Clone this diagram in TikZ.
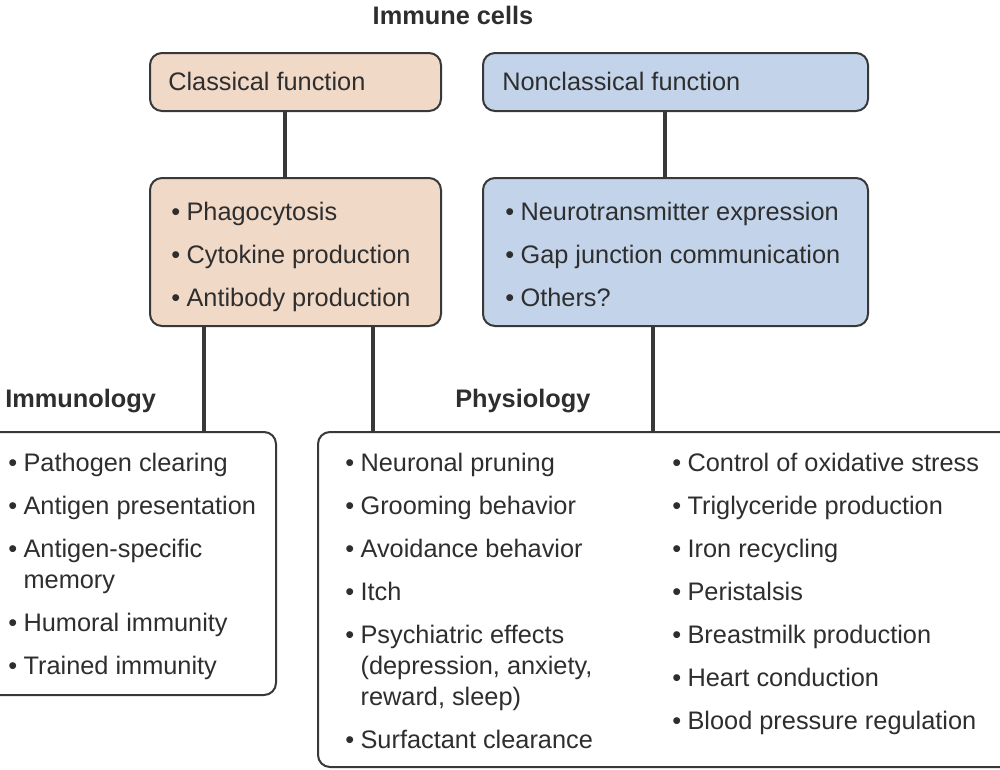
\documentclass[tikz,border=0pt]{standalone}
\usepackage{fontspec}
\setmainfont{Liberation Sans}
\usetikzlibrary{fit}
\definecolor{peach}{HTML}{F1D9C7}
\definecolor{paleblue}{HTML}{C3D4EA}
\definecolor{edge}{HTML}{383838}
\definecolor{ink}{HTML}{2E2E2E}
\newcommand\bu{\makebox[11.5pt][l]{•}}
\newcommand\ind{\hspace*{11.5pt}}
\begin{document}
\begin{tikzpicture}[x=0.75pt,y=-0.75pt,
  box/.style={draw=edge, line width=1.5pt, rounded corners=9pt, inner sep=0pt},
  conn/.style={draw=edge, line width=2.3pt},
  txt/.style={font=\fontsize{19}{23.25}\selectfont, text=ink, inner sep=0pt, anchor=base west},
  hd/.style={font=\fontsize{19}{23.25}\selectfont\bfseries, text=ink, inner sep=0pt, anchor=base west}]
\useasboundingbox (0,0) rectangle (1000,769);

% boxes
\node[box, fill=peach, fit={(150,53) (441,111)}] (cf) {};
\node[box, fill=paleblue, fit={(483,53) (868,111)}] (ncf) {};
\node[box, fill=peach, fit={(150,178) (441,326)}] (cb) {};
\node[box, fill=paleblue, fit={(483,178) (868,326)}] (ncb) {};
\node[box, fill=white, fit={(-20,432) (276,695)}] (imm) {};
\node[box, fill=white, fit={(318,432) (1020,767)}] (phys) {};

% helper coordinates for connector positions
\coordinate (x1) at (285,0);
\coordinate (x2) at (665,0);
\coordinate (x3) at (204,0);
\coordinate (x4) at (373,0);
\coordinate (x5) at (653,0);

\draw[conn] (cf.south -| x1) -- (cb.north -| x1);
\draw[conn] (ncf.south -| x2) -- (ncb.north -| x2);
\draw[conn] (cb.south -| x3) -- (imm.north -| x3);
\draw[conn] (cb.south -| x4) -- (phys.north -| x4);
\draw[conn] (ncb.south -| x5) -- (phys.north -| x5);

% titles
\node[hd, anchor=base] (title) at (453,24) {Immune cells};
\node[txt] (cft) at (168,90) {Classical function};
\node[txt] (ncft) at (502,90) {Nonclassical function};
\node[hd] (immt) at (5,407) {Immunology};
\node[hd] (physt) at (455,407) {Physiology};

% lists
\node[txt] (cbl) at (171,220) {\parbox[t]{260pt}{%
  \bu Phagocytosis\\[9pt]
  \bu Cytokine production\\[9pt]
  \bu Antibody production}};
\node[txt] (ncbl) at (505,220) {\parbox[t]{300pt}{%
  \bu Neurotransmitter expression\\[9pt]
  \bu Gap junction communication\\[9pt]
  \bu Others?}};
\node[txt] (imml) at (8,471) {\parbox[t]{260pt}{%
  \bu Pathogen clearing\\[9pt]
  \bu Antigen presentation\\[9pt]
  \bu Antigen-specific\\
  \ind memory\\[9pt]
  \bu Humoral immunity\\[9pt]
  \bu Trained immunity}};
\node[txt] (physl) at (345,471) {\parbox[t]{260pt}{%
  \bu Neuronal pruning\\[9pt]
  \bu Grooming behavior\\[9pt]
  \bu Avoidance behavior\\[9pt]
  \bu Itch\\[9pt]
  \bu Psychiatric effects\\
  \ind (depression, anxiety,\\
  \ind reward, sleep)\\[9pt]
  \bu Surfactant clearance}};
\node[txt] (physr) at (672,471) {\parbox[t]{300pt}{%
  \bu Control of oxidative stress\\[9pt]
  \bu Triglyceride production\\[9pt]
  \bu Iron recycling\\[9pt]
  \bu Peristalsis\\[9pt]
  \bu Breastmilk production\\[9pt]
  \bu Heart conduction\\[9pt]
  \bu Blood pressure regulation}};
\end{tikzpicture}
\end{document}
